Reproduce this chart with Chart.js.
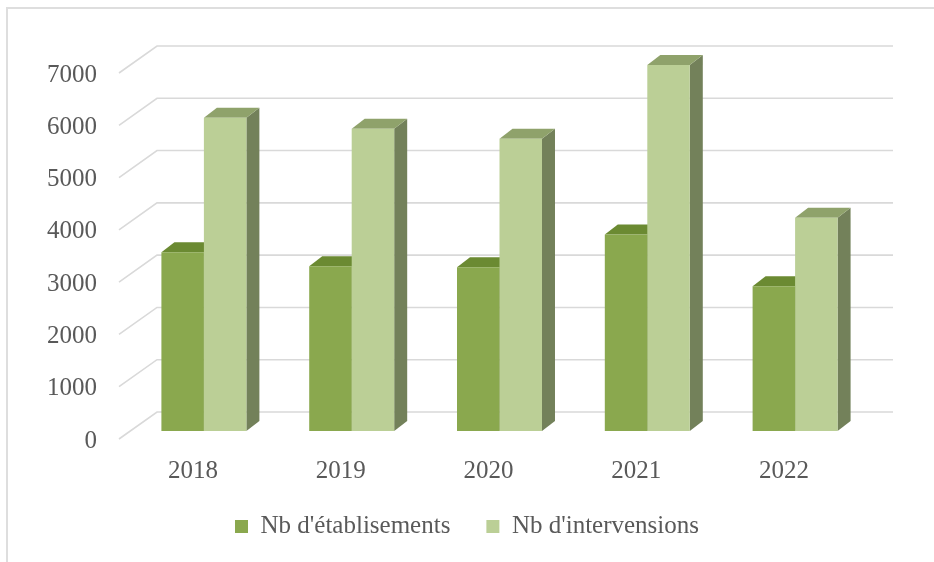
<!DOCTYPE html>
<html>
<head>
<meta charset="utf-8">
<script src="https://cdn.jsdelivr.net/npm/chart.js@4.4.1/dist/chart.umd.min.js"></script>
<style>
  html, body { margin: 0; padding: 0; background: #fff; overflow: hidden; }
  .wrap { position: relative; width: 934px; height: 562px; }
  .frame {
    position: absolute; left: 6px; top: 7px; width: 960px; height: 600px;
    border: 2px solid #dedede; pointer-events: none;
  }
</style>
</head>
<body>
<div class="wrap">
  <canvas id="chart" width="934" height="562"></canvas>
  <div class="frame"></div>
</div>
<script>
const years = ['2018', '2019', '2020', '2021', '2022'];
const etablissements = [3420, 3150, 3130, 3760, 2770];
const interventions = [5990, 5780, 5590, 7000, 4080];
const yMax = 7000;
const yStep = 1000;

// fake 3D: bar depth, back wall and front (label) plane offsets
const BAR_DX = 13, BAR_DY = -10;
const WALL_DX = 27, WALL_DY = -19;
const FRONT_DX = -11, FRONT_DY = 8;

const faceColors = [
  { top: '#6b8a32', side: '#6d7f45' },
  { top: '#8fa26b', side: '#73815a' }
];

Chart.defaults.font.family = "'Liberation Serif', 'Times New Roman', serif";
Chart.defaults.font.size = 25;
Chart.defaults.color = '#595959';

const depth3d = {
  id: 'depth3d',
  afterLayout(chart) {
    // pull the legend row up a little under the year labels
    if (chart.legend) {
      chart.legend.top -= 13;
      chart.legend.bottom -= 13;
    }
  },
  beforeDatasetsDraw(chart) {
    const { ctx, chartArea, scales } = chart;
    const y = scales.y;
    ctx.save();

    // back wall gridlines with the floor diagonal
    ctx.strokeStyle = '#d9d9d9';
    ctx.lineWidth = 1.6;
    y.ticks.forEach(t => {
      const py = y.getPixelForValue(t.value);
      ctx.beginPath();
      ctx.moveTo(chartArea.left + FRONT_DX, py + FRONT_DY);
      ctx.lineTo(chartArea.left + WALL_DX, py + WALL_DY);
      ctx.lineTo(chartArea.right + 24, py + WALL_DY);
      ctx.stroke();
    });

    // top and side faces, the front faces are drawn over them
    chart.data.datasets.forEach((ds, i) => {
      const meta = chart.getDatasetMeta(i);
      const col = faceColors[i];
      meta.data.forEach(bar => {
        const { x, y: top, base, width } = bar.getProps(['x', 'y', 'base', 'width'], true);
        const l = x - width / 2, r = x + width / 2;
        ctx.fillStyle = col.side;
        ctx.beginPath();
        ctx.moveTo(r, top);
        ctx.lineTo(r + BAR_DX, top + BAR_DY);
        ctx.lineTo(r + BAR_DX, base + BAR_DY);
        ctx.lineTo(r, base);
        ctx.closePath();
        ctx.fill();
        ctx.fillStyle = col.top;
        ctx.beginPath();
        ctx.moveTo(l, top);
        ctx.lineTo(r, top);
        ctx.lineTo(r + BAR_DX, top + BAR_DY);
        ctx.lineTo(l + BAR_DX, top + BAR_DY);
        ctx.closePath();
        ctx.fill();
      });
    });
    ctx.restore();
  }
};

new Chart(document.getElementById('chart'), {
  type: 'bar',
  data: {
    labels: years,
    datasets: [
      {
        label: "Nb d'établisements",
        data: etablissements,
        backgroundColor: '#8aa84e',
        borderWidth: 0,
        categoryPercentage: 0.575,
        barPercentage: 1
      },
      {
        label: "Nb d'intervensions",
        data: interventions,
        backgroundColor: '#bbcf96',
        borderWidth: 0,
        categoryPercentage: 0.575,
        barPercentage: 1
      }
    ]
  },
  options: {
    responsive: false,
    animation: false,
    devicePixelRatio: 1,
    layout: { padding: { left: 0, right: 0, top: 65, bottom: 0 } },
    plugins: {
      legend: {
        position: 'bottom',
        labels: {
          boxWidth: 13,
          boxHeight: 13,
          padding: 36,
          color: '#595959',
          font: { size: 25 }
        }
      },
      tooltip: { enabled: false }
    },
    scales: {
      x: {
        grid: { display: false },
        border: { display: false },
        ticks: { padding: 17, labelOffset: FRONT_DX, color: '#595959' },
        afterFit(scale) { scale.height = 60; }
      },
      y: {
        min: 0,
        max: yMax,
        grid: { display: false },
        border: { display: false },
        ticks: {
          stepSize: yStep,
          padding: 25,
          labelOffset: FRONT_DY + 2,
          color: '#595959',
          callback: v => String(v)
        },
        afterFit(scale) { scale.width = 130; }
      },
      yRight: {
        position: 'right',
        grid: { display: false },
        border: { display: false },
        ticks: { display: false },
        afterFit(scale) { scale.width = 65; }
      }
    }
  },
  plugins: [depth3d]
});
</script>
</body>
</html>
